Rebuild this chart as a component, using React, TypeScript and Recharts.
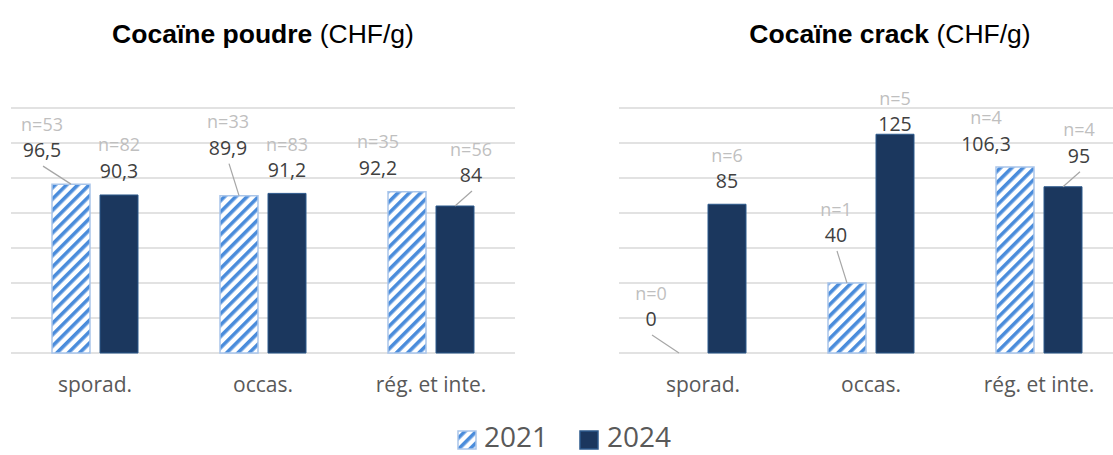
import React from 'react';
import { BarChart, Bar, XAxis, YAxis, CartesianGrid, LabelList } from 'recharts';

// categories and values (CHF/g)
const categories = ['sporad.', 'occas.', 'rég. et inte.'];
const poudre2021 = [96.5, 89.9, 92.2];
const poudre2024 = [90.3, 91.2, 84];
const poudreN2021 = [53, 33, 35];
const poudreN2024 = [82, 83, 56];
const crack2021 = [0, 40, 106.3];
const crack2024 = [85, 125, 95];
const crackN2021 = [0, 1, 4];
const crackN2024 = [6, 5, 4];
const yTicks = [0, 20, 40, 60, 80, 100, 120, 140];
const seriesNames = ['2021', '2024'];

// label nudges: value label centre relative to the top centre of its bar
const poudreNudge2021 = [[-29, -34], [-11, -48], [-29, -24]];
const poudreNudge2024 = [[0, -24], [0, -23], [16, -31]];
const crackNudge2021 = [[-28, -34], [-11, -48], [-29, -23]];
const crackNudge2024 = [[0, -23], [0, -10], [16, -31]];
const poudreLeader2021 = [true, true, false];
const poudreLeader2024 = [false, false, true];
const crackLeader2021 = [true, true, false];
const crackLeader2024 = [false, false, true];

const FONT = "'Open Sans', 'DejaVu Sans', sans-serif";
const TITLE_FONT = "'Liberation Sans', Arial, sans-serif";
const NAVY = '#1b375e';
const NAVY_EDGE = '#2d5a8c';
const STRIPE = '#4a8cdb';
const STRIPE_EDGE = '#a9c5ea';
const BAR_SIZE = 38;
const BAR_GAP = 10;

const fmt = (v: number) => String(v).replace('.', ',');

function HatchDef({ id }: { id: string }) {
  return (
    <pattern id={id} patternUnits="userSpaceOnUse" width={8} height={8} patternTransform="rotate(45)">
      <rect width={8} height={8} fill="#fff" />
      <rect width={3.6} height={8} fill={STRIPE} />
    </pattern>
  );
}

// value + "n=" tag above a bar, with an optional leader line
function Tag({ cx, top, value, count, nudge, leader }: any) {
  const lx = cx + nudge[0];
  const ly = top + nudge[1];
  return (
    <g>
      {leader && <line x1={lx + 1} y1={ly + 16} x2={cx} y2={top} stroke="#a6a6a6" strokeWidth={1.2} />}
      <text x={lx} y={ly - 26 + 6.5} textAnchor="middle" fill="#bfbfbf" fontSize={18} fontFamily={FONT}>
        n={count}
      </text>
      <text x={lx} y={ly + 7} textAnchor="middle" fill="#404040" fontSize={19.5} fontFamily={FONT}>
        {fmt(value)}
      </text>
    </g>
  );
}

// labels of both years are hung on the 2024 bar (a zero-height 2021 bar gets no label slot)
function makePairLabel(p: PanelProps) {
  return (props: any) => {
    const i = categories.indexOf(props.value);
    if (i < 0) return null;
    const x = Number(props.x);
    const y = Number(props.y);
    const w = Number(props.width);
    const h = Number(props.height);
    const base = y + h;
    const perUnit = h / p.v2024[i];
    const cxB = x + w / 2;
    const cxA = cxB - (w + BAR_GAP);
    const topA = base - p.v2021[i] * perUnit;
    return (
      <g>
        <Tag cx={cxA} top={topA} value={p.v2021[i]} count={p.n2021[i]} nudge={p.nudge2021[i]} leader={p.leader2021[i]} />
        <Tag cx={cxB} top={y} value={p.v2024[i]} count={p.n2024[i]} nudge={p.nudge2024[i]} leader={p.leader2024[i]} />
      </g>
    );
  };
}

const AxisTick = (props: any) => {
  const { x, y, payload } = props;
  return (
    <text x={x} y={Number(y) + 31} textAnchor="middle" fill="#595959" fontSize={21} fontFamily={FONT}>
      {payload.value}
    </text>
  );
};

interface PanelProps {
  id: string;
  left: number;
  marginLeft: number;
  marginRight: number;
  v2021: number[];
  v2024: number[];
  n2021: number[];
  n2024: number[];
  nudge2021: number[][];
  nudge2024: number[][];
  leader2021: boolean[];
  leader2024: boolean[];
}

function Panel(p: PanelProps) {
  const rows = categories.map((c, i) => ({ cat: c, a: p.v2021[i], b: p.v2024[i] }));
  return (
    <div style={{ position: 'absolute', left: p.left, top: 0 }}>
      <BarChart
        width={530}
        height={410}
        data={rows}
        margin={{ top: 108, right: p.marginRight, left: p.marginLeft, bottom: 0 }}
        barGap={BAR_GAP}
      >
        <defs>
          <HatchDef id={p.id} />
        </defs>
        <CartesianGrid vertical={false} stroke="#d9d9d9" strokeWidth={1.5} />
        <XAxis dataKey="cat" axisLine={false} tickLine={false} height={57} interval={0} tick={<AxisTick />} />
        <YAxis hide domain={[0, 140]} ticks={yTicks} />
        <Bar dataKey="a" name={seriesNames[0]} barSize={BAR_SIZE} fill={`url(#${p.id})`} stroke={STRIPE_EDGE} strokeWidth={1.5} isAnimationActive={false} />
        <Bar dataKey="b" name={seriesNames[1]} barSize={BAR_SIZE} fill={NAVY} stroke={NAVY_EDGE} strokeWidth={1} isAnimationActive={false}>
          <LabelList dataKey="cat" content={makePairLabel(p)} />
        </Bar>
      </BarChart>
    </div>
  );
}

export default function App() {
  return (
    <div
      style={{
        position: 'fixed',
        left: 0,
        top: 0,
        width: 1113,
        height: 455,
        overflow: 'hidden',
        background: '#fff',
      }}
    >
      <Panel
        id="hatchPoudre"
        left={0}
        marginLeft={11}
        marginRight={15}
        v2021={poudre2021}
        v2024={poudre2024}
        n2021={poudreN2021}
        n2024={poudreN2024}
        nudge2021={poudreNudge2021}
        nudge2024={poudreNudge2024}
        leader2021={poudreLeader2021}
        leader2024={poudreLeader2024}
      />
      <Panel
        id="hatchCrack"
        left={600}
        marginLeft={19}
        marginRight={7}
        v2021={crack2021}
        v2024={crack2024}
        n2021={crackN2021}
        n2024={crackN2024}
        nudge2021={crackNudge2021}
        nudge2024={crackNudge2024}
        leader2021={crackLeader2021}
        leader2024={crackLeader2024}
      />
      <svg width={1113} height={455} style={{ position: 'absolute', left: 0, top: 0, pointerEvents: 'none' }}>
        <defs>
          <HatchDef id="hatchLegend" />
        </defs>
        {/* titles */}
        <text x={263} y={43} textAnchor="middle" fontSize={26.5} fontFamily={TITLE_FONT} fill="#000">
          <tspan fontWeight="bold">Cocaïne poudre</tspan>
          <tspan> (CHF/g)</tspan>
        </text>
        <text x={890} y={43} textAnchor="middle" fontSize={26.5} fontFamily={TITLE_FONT} fill="#000">
          <tspan fontWeight="bold">Cocaïne crack</tspan>
          <tspan> (CHF/g)</tspan>
        </text>
        {/* legend */}
        <rect x={458} y={431} width={18} height={18} fill="url(#hatchLegend)" stroke={STRIPE_EDGE} strokeWidth={1.5} />
        <text x={484} y={447} fontSize={28} fontFamily={FONT} fill="#595959">{seriesNames[0]}</text>
        <rect x={580} y={431} width={18} height={18} fill={NAVY} stroke={NAVY_EDGE} strokeWidth={1.5} />
        <text x={607} y={447} fontSize={28} fontFamily={FONT} fill="#595959">{seriesNames[1]}</text>
      </svg>
    </div>
  );
}
